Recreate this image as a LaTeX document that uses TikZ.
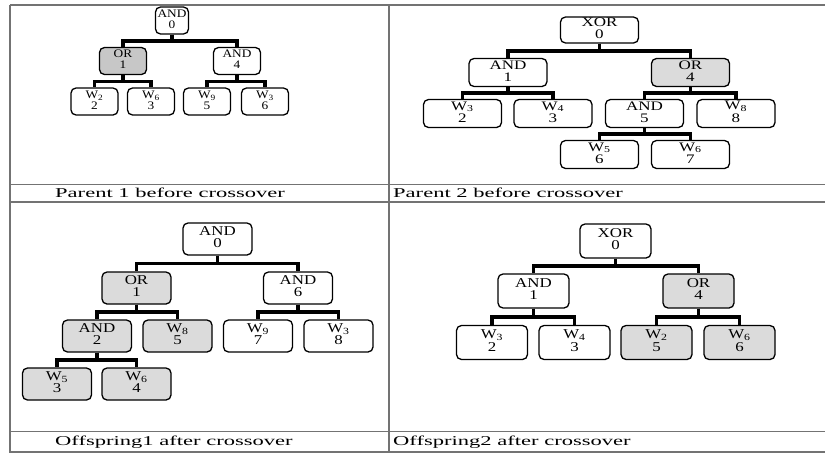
\documentclass[tikz,border=0pt]{standalone}
\usepackage{fontspec}
\setmainfont{Liberation Serif}
\usetikzlibrary{calc}
\tikzset{>=latex}
\newcommand{\gate}[2]{\scalebox{\sx}[1]{\begin{tabular}{@{}c@{}}#1\\#2\end{tabular}}}
\newcommand{\capt}[1]{\scalebox{1.67}[1]{#1}}

\begin{document}
\begin{tikzpicture}[x=1pt,y=-1pt,
	gnode/.style={draw,rounded corners=5pt,line width=1.3pt,inner sep=0pt},
	shade/.style={fill=black!14},
	pone/.style={gnode,minimum width=47pt,minimum height=27pt,font=\fontsize{11.5}{10.5}\selectfont,execute at begin node={\def\sx{1.16}}},
	ptwo/.style={gnode,minimum width=78pt,minimum height=28pt,font=\fontsize{13}{11.5}\selectfont,execute at begin node={\def\sx{1.31}}},
	othree/.style={gnode,minimum width=69pt,minimum height=32pt,font=\fontsize{13.5}{12.5}\selectfont,execute at begin node={\def\sx{1.25}}},
	ofour/.style={gnode,minimum width=71pt,minimum height=34pt,font=\fontsize{13.5}{12.5}\selectfont,execute at begin node={\def\sx{1.25}}},
	link/.style={line width=3.5pt},
	frame/.style={black!55,line width=1.1pt},
	caption/.style={anchor=base west,inner sep=0pt,font=\fontsize{13.5}{14}\selectfont}]
		\fill[white] (0,0) rectangle (825,453);
		\useasboundingbox (0,0) rectangle (825,453);
		% table lines
		\draw[frame] (10,5) -- (825,5);
		\draw[frame] (10,184.5) -- (825,184.5);
		\draw[frame] (10,202) -- (825,202);
		\draw[frame] (10,431.5) -- (825,431.5);
		\draw[frame] (10,452) -- (825,452);
		\draw[frame] (10,5) -- (10,453);
		\draw[frame] (389,5) -- (389,453);
		% Parent 1
		\node[pone,minimum width=33pt] (pa0) at (172,20.5) {\gate{AND}{0}};
		\node[pone,fill=black!22] (pa1) at (123,61) {\gate{OR}{1}};
		\node[pone] (pa4) at (237,61) {\gate{AND}{4}};
		\node[pone] (pa2) at (94.5,101.5) {\gate{W\textsubscript{2}}{2}};
		\node[pone] (pa3) at (151,101.5) {\gate{W\textsubscript{6}}{3}};
		\node[pone] (pa5) at (207,101.5) {\gate{W\textsubscript{9}}{5}};
		\node[pone] (pa6) at (265,101.5) {\gate{W\textsubscript{3}}{6}};
		\node[caption] (ca) at (55,197) {\capt{Parent 1 before crossover}};
		% Parent 2
		\node[ptwo,minimum height=26pt] (pb0) at (599.5,30) {\gate{XOR}{0}};
		\node[ptwo] (pb1) at (508,72.5) {\gate{AND}{1}};
		\node[ptwo,shade] (pb4) at (690.5,72.5) {\gate{OR}{4}};
		\node[ptwo] (pb2) at (462.5,113.5) {\gate{W\textsubscript{3}}{2}};
		\node[ptwo] (pb3) at (553,113.5) {\gate{W\textsubscript{4}}{3}};
		\node[ptwo] (pb5) at (644.5,113.5) {\gate{AND}{5}};
		\node[ptwo] (pb8) at (736,113.5) {\gate{W\textsubscript{8}}{8}};
		\node[ptwo] (pb6) at (599.5,154.5) {\gate{W\textsubscript{5}}{6}};
		\node[ptwo] (pb7) at (690.5,154.5) {\gate{W\textsubscript{6}}{7}};
		\node[caption] (cb) at (393,197) {\capt{Parent 2 before crossover}};
		% Offspring 1
		\node[othree] (oa0) at (217.5,239) {\gate{AND}{0}};
		\node[othree,shade] (oa1) at (136.5,288) {\gate{OR}{1}};
		\node[othree] (oa6) at (298,288) {\gate{AND}{6}};
		\node[othree,shade] (oa2) at (97,336) {\gate{AND}{2}};
		\node[othree,shade] (oa5) at (177.5,336) {\gate{W\textsubscript{8}}{5}};
		\node[othree] (oa7) at (258,336) {\gate{W\textsubscript{9}}{7}};
		\node[othree] (oa8) at (338.5,336) {\gate{W\textsubscript{3}}{8}};
		\node[othree,shade] (oa3) at (57,384) {\gate{W\textsubscript{5}}{3}};
		\node[othree,shade] (oa4) at (136.5,384) {\gate{W\textsubscript{6}}{4}};
		\node[caption] (cc) at (55,445) {\capt{Offspring1 after crossover}};
		% Offspring 2
		\node[ofour] (ob0) at (615.5,241) {\gate{XOR}{0}};
		\node[ofour] (ob1) at (533.5,291) {\gate{AND}{1}};
		\node[ofour,shade] (ob4) at (698.5,291) {\gate{OR}{4}};
		\node[ofour] (ob2) at (492,342.5) {\gate{W\textsubscript{3}}{2}};
		\node[ofour] (ob3) at (574.5,342.5) {\gate{W\textsubscript{4}}{3}};
		\node[ofour,shade] (ob5) at (656.5,342.5) {\gate{W\textsubscript{2}}{5}};
		\node[ofour,shade] (ob6) at (739.5,342.5) {\gate{W\textsubscript{6}}{6}};
		\node[caption] (cd) at (393,445) {\capt{Offspring2 after crossover}};
		% links
		\foreach \p/\c in {pa0/pa1,pa0/pa4,pa1/pa2,pa1/pa3,pa4/pa5,pa4/pa6,
				pb0/pb1,pb0/pb4,pb1/pb2,pb1/pb3,pb4/pb5,pb4/pb8,pb5/pb6,pb5/pb7,
				oa0/oa1,oa0/oa6,oa1/oa2,oa1/oa5,oa6/oa7,oa6/oa8,oa2/oa3,oa2/oa4,
				ob0/ob1,ob0/ob4,ob1/ob2,ob1/ob3,ob4/ob5,ob4/ob6}
			\draw[link] (\p.south) |- ($(\p.south)!.5!(\c.north)$) -| (\c.north);
\end{tikzpicture}
\end{document}
